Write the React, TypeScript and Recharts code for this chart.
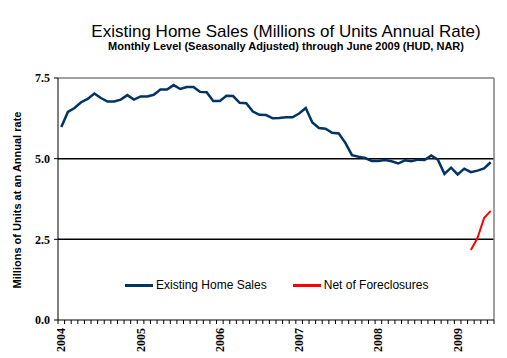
import React from 'react';
import { LineChart, Line, XAxis, YAxis, ReferenceLine } from 'recharts';

// monthly, Jan 2004 .. Jun 2009 (millions, SAAR)
const existingSales = [
  5.98, 6.45, 6.57, 6.75, 6.85, 7.02, 6.88, 6.77, 6.77, 6.83, 6.97, 6.83,
  6.93, 6.93, 6.98, 7.14, 7.14, 7.28, 7.16, 7.22, 7.22, 7.07, 7.06, 6.79,
  6.79, 6.95, 6.94, 6.73, 6.72, 6.46, 6.36, 6.35, 6.25, 6.26, 6.28, 6.28,
  6.4, 6.57, 6.12, 5.95, 5.93, 5.8, 5.78, 5.49, 5.11, 5.06, 5.02, 4.93,
  4.93, 4.96, 4.92, 4.85, 4.95, 4.92, 4.97, 4.96, 5.1, 4.97, 4.53, 4.72,
  4.51, 4.69, 4.58, 4.63, 4.7, 4.89,
];

// Mar 2009 .. Jun 2009
const netOfForeclosures = [2.17, 2.54, 3.16, 3.38];
const netStart = 62;

const years = ['2004', '2005', '2006', '2007', '2008', '2009'];
const yTicks = [0, 2.5, 5, 7.5];

const nMonths = existingSales.length;

const rows = existingSales.map((v, i) => ({
  m: i + 0.5,
  sales: v,
  net: i >= netStart ? netOfForeclosures[i - netStart] : null,
}));

const monthTicks = Array.from({ length: nMonths + 1 }, (_, i) => i);

const W = 507;
const H = 358;
const M = { top: 78, right: 13, bottom: 8, left: 0 };
const Y_AXIS_W = 58;
const halfMonth = (W - M.right - Y_AXIS_W) / nMonths / 2;

const serif = '"Liberation Serif", "Times New Roman", serif';
const sans = 'Arial, "Liberation Sans", sans-serif';

const YearTick = (props: any) => {
  const { x, y, payload } = props;
  const idx = payload.value;
  if (idx % 12 !== 0 || idx >= nMonths) return <g />;
  const tx = x + halfMonth + 4;
  const ty = y + 2;
  return (
    <text
      x={tx}
      y={ty}
      transform={`rotate(-90, ${tx}, ${ty})`}
      textAnchor="end"
      fontFamily={serif}
      fontWeight="bold"
      fontSize={12}
      fill="#000"
    >
      {years[idx / 12]}
    </text>
  );
};

const LegendItem = ({ color, label }: { color: string; label: string }) => (
  <div style={{ display: 'flex', alignItems: 'center' }}>
    <div style={{ width: 28, height: 3, background: color, marginRight: 3 }} />
    <span>{label}</span>
  </div>
);

export default function App() {
  return (
    <div
      style={{
        position: 'absolute',
        left: 0,
        top: 0,
        width: W,
        height: H,
        background: '#fff',
        fontFamily: sans,
        color: '#000',
      }}
    >
      <LineChart width={W} height={H} data={rows} margin={M}>
        <XAxis
          type="number"
          dataKey="m"
          domain={[0, nMonths]}
          ticks={monthTicks}
          interval={0}
          height={30}
          tickSize={4}
          stroke="#000"
          tick={<YearTick />}
        />
        <YAxis
          domain={[0, 7.5]}
          ticks={yTicks}
          width={Y_AXIS_W}
          tickSize={4}
          tickMargin={4}
          stroke="#000"
          tick={{ fontFamily: serif, fontWeight: 'bold', fontSize: 12, fill: '#000' }}
          tickFormatter={(v: number) => v.toFixed(1)}
        />
        <ReferenceLine y={2.5} stroke="#000" strokeWidth={1.5} />
        <ReferenceLine y={5} stroke="#000" strokeWidth={1.5} />
        <ReferenceLine y={7.5} stroke="#808080" strokeWidth={1.5} />
        <ReferenceLine x={nMonths} stroke="#808080" strokeWidth={1.5} />
        <Line
          dataKey="sales"
          stroke="#003366"
          strokeWidth={2.5}
          dot={false}
          isAnimationActive={false}
        />
        <Line
          dataKey="net"
          stroke="#ff0000"
          strokeWidth={2}
          dot={false}
          isAnimationActive={false}
        />
      </LineChart>

      <div
        style={{
          position: 'absolute',
          left: 36,
          width: 500,
          top: 22,
          textAlign: 'center',
          fontSize: 17,
          whiteSpace: 'nowrap',
        }}
      >
        Existing Home Sales (Millions of Units Annual Rate)
      </div>
      <div
        style={{
          position: 'absolute',
          left: 36,
          width: 500,
          top: 40,
          textAlign: 'center',
          fontSize: 11,
          fontWeight: 'bold',
          whiteSpace: 'nowrap',
        }}
      >
        Monthly Level (Seasonally Adjusted) through June 2009 (HUD, NAR)
      </div>
      <div
        style={{
          position: 'absolute',
          left: 17,
          top: 200,
          transform: 'translate(-50%, -50%) rotate(-90deg)',
          fontSize: 11,
          fontWeight: 'bold',
          whiteSpace: 'nowrap',
        }}
      >
        Millions of Units at an Annual rate
      </div>
      <div
        style={{
          position: 'absolute',
          left: 125,
          top: 278,
          display: 'flex',
          gap: 26,
          fontSize: 12,
        }}
      >
        <LegendItem color="#003366" label="Existing Home Sales" />
        <LegendItem color="#ff0000" label="Net of Foreclosures" />
      </div>
    </div>
  );
}
